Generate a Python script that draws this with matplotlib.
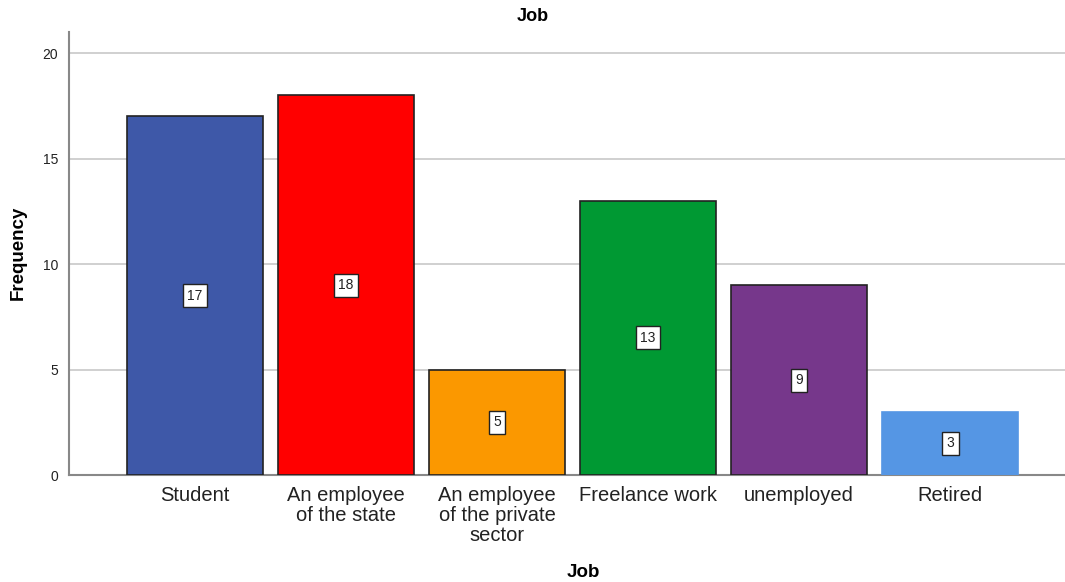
import matplotlib
matplotlib.use("Agg")
import matplotlib.pyplot as plt

categories = ["Student", "An employee\nof the state", "An employee\nof the private\nsector",
              "Freelance work", "unemployed", "Retired"]
frequencies = [17, 18, 5, 13, 9, 3]
colors = ["#3E58A8", "#FF0000", "#FB9800", "#009933", "#76378B", "#5596E4"]
edges = ["#222222", "#222222", "#222222", "#222222", "#222222", "#5596E4"]
yticks = [0, 5, 10, 15, 20]

plt.rcParams["font.family"] = ["Liberation Sans", "DejaVu Sans"]

fig = plt.figure(figsize=(10.65, 5.82), dpi=100)
ax = fig.add_axes([0.0648, 0.1838, 0.9352, 0.7612])

x = list(range(len(categories)))
bars = ax.bar(x, frequencies, width=0.9, color=colors, edgecolor=edges, linewidth=1.2, zorder=3)

for xi, v in zip(x, frequencies):
    ax.text(xi, v / 2, str(v), ha="center", va="center", fontsize=10, color="#222222", zorder=4,
            bbox=dict(boxstyle="square,pad=0.32", facecolor="white", edgecolor="#222222", linewidth=1))

ax.set_xlim(-0.834, 5.76)
ax.set_ylim(0, 21.0)
ax.set_yticks(yticks)
ax.yaxis.grid(True, color="#C8C8C8", linewidth=1.2, zorder=0)
ax.set_axisbelow(True)

ax.set_xticks(x)
ax.set_xticklabels(categories, fontsize=14.5, color="#222222", linespacing=1.05)
ax.tick_params(axis="x", length=0, pad=8)
ax.tick_params(axis="y", length=0, pad=8, labelsize=10, labelcolor="#222222")

for side in ["top", "right"]:
    ax.spines[side].set_visible(False)
for side in ["left", "bottom"]:
    ax.spines[side].set_color("#888888")
    ax.spines[side].set_linewidth(1.5)

fig.text(0.5, 0.9725, "Job", fontsize=13, fontweight="bold", ha="center", va="center")
fig.text(0.017, 0.565, "Frequency", fontsize=13.5, fontweight="bold", ha="center", va="center",
         rotation=90)
fig.text(0.5475, 0.017, "Job", fontsize=13.5, fontweight="bold", ha="center", va="center")

fig.savefig("out.png", dpi=100, facecolor="white")
